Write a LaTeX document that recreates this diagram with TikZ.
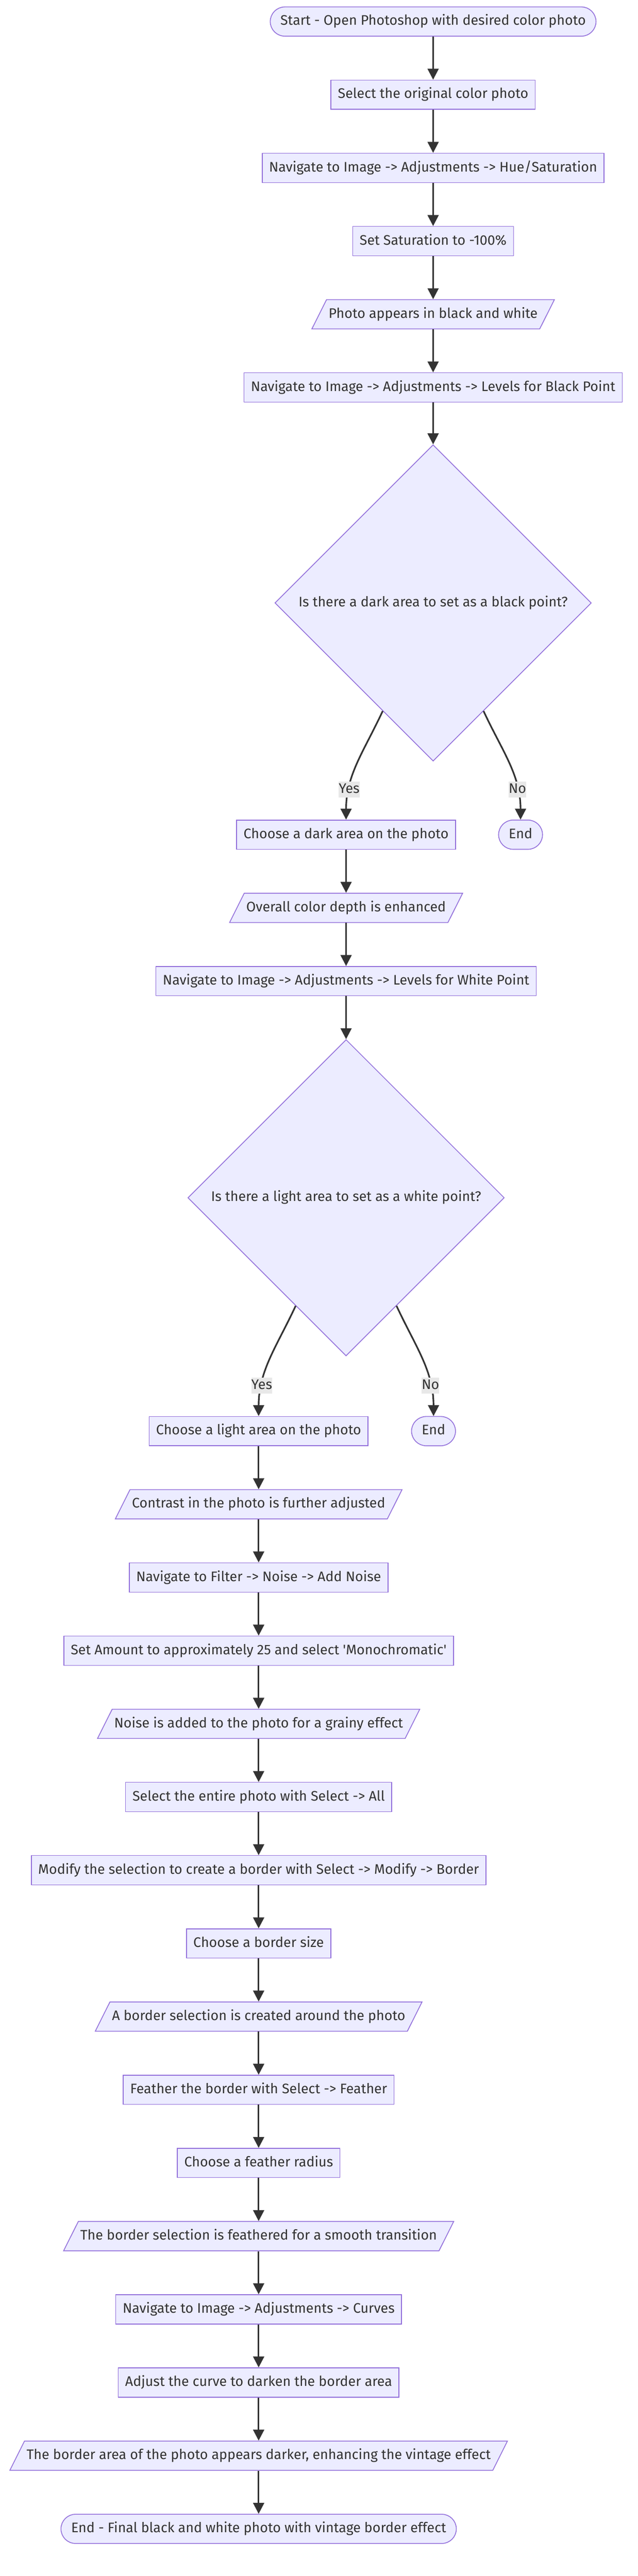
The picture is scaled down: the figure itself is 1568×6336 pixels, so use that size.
\documentclass[tikz,border=0pt]{standalone}
\usepackage{fontspec}
\newfontfamily\flowfont{Fira Sans}
\usetikzlibrary{shapes.geometric,arrows.meta}
\definecolor{boxfill}{HTML}{ECECFF}
\definecolor{boxline}{HTML}{9370DB}
\definecolor{ink}{HTML}{333333}
\definecolor{tagfill}{HTML}{E8E8E8}
\begin{document}
\begin{tikzpicture}[x=1pt,y=-1pt]%[node distance=108pt, every node=[box]]
			\tikzstyle{every node}=[font=\flowfont\fontsize{34}{40}\selectfont, text=ink, text height=26pt, text depth=8pt]
			\tikzstyle{box}=[rectangle, draw=boxline, fill=boxfill, line width=2pt, minimum height=72pt, inner xsep=17pt]
			\tikzstyle{stadium}=[box, rounded corners=36pt, inner xsep=25pt]
			\tikzstyle{slant}=[box, trapezium, trapezium left angle=63.4, trapezium right angle=116.6, minimum height=0pt, inner xsep=5pt, inner ysep=19pt]
			\tikzstyle{decision}=[box, diamond, aspect=1, minimum size=778pt, inner sep=0pt]
			\tikzstyle{flow}=[draw=ink, line width=4pt, -{Triangle[length=27pt,width=27pt]}]
			\tikzstyle{tag}=[fill=tagfill, inner sep=0pt, minimum height=39pt]
			\useasboundingbox (0,0) rectangle (1568,6336);
			% first column, down to the black point question
			\foreach \i/\y/\kind/\txt in {1/53/stadium/{Start - Open Photoshop with desired color photo},
				2/233/box/{Select the original color photo},
				3/413/box/{Navigate to Image -> Adjustments -> Hue/Saturation},
				4/593/box/{Set Saturation to -100\%},
				5/773/slant/{Photo appears in black and white},
				6/953/box/{Navigate to Image -> Adjustments -> Levels for Black Point},
				7/1483/decision/{Is there a dark area to set as a black point?}}
			{
				\node[\kind] (a\i) at (1065,\y) {\txt};
				\ifnum\i>1
				\pgfmathtruncatemacro\prev{\i-1}
				\draw[flow] (a\prev) -- (a\i);
				\fi
			}
			% second column, down to the white point question
			\foreach \i/\y/\kind/\txt in {1/2053/box/{Choose a dark area on the photo},
				2/2233/slant/{Overall color depth is enhanced},
				3/2413/box/{Navigate to Image -> Adjustments -> Levels for White Point},
				4/2946/decision/{Is there a light area to set as a white point?}}
			{
				\node[\kind] (b\i) at (851,\y) {\txt};
				\ifnum\i>1
				\pgfmathtruncatemacro\prev{\i-1}
				\draw[flow] (b\prev) -- (b\i);
				\fi
			}
			% third column, the border effect
			\foreach \i/\kind/\txt in {1/box/{Choose a light area on the photo},
				2/slant/{Contrast in the photo is further adjusted},
				3/box/{Navigate to Filter -> Noise -> Add Noise},
				4/box/{Set Amount to approximately 25 and select 'Monochromatic'},
				5/slant/{Noise is added to the photo for a grainy effect},
				6/box/{Select the entire photo with Select -> All},
				7/box/{Modify the selection to create a border with Select -> Modify -> Border},
				8/box/{Choose a border size},
				9/slant/{A border selection is created around the photo},
				10/box/{Feather the border with Select -> Feather},
				11/box/{Choose a feather radius},
				12/slant/{The border selection is feathered for a smooth transition},
				13/box/{Navigate to Image -> Adjustments -> Curves},
				14/box/{Adjust the curve to darken the border area},
				15/slant/{The border area of the photo appears darker, enhancing the vintage effect},
				16/stadium/{End - Final black and white photo with vintage border effect}}
			{
				\pgfmathsetmacro\y{3520+180*(\i-1)}
				\node[\kind] (c\i) at (636,\y) {\txt};
				\ifnum\i>1
				\pgfmathtruncatemacro\prev{\i-1}
				\draw[flow] (c\prev) -- (c\i);
				\fi
			}
			\node[stadium] (endA) at (1280,2053) {End};
			\node[stadium] (endB) at (1066,3520) {End};
			\draw[flow] (a7.-115) to[out=-115,in=90] node[tag,pos=0.75] {Yes} (b1.north);
			\draw[flow] (a7.-65) to[out=-65,in=90] node[tag,pos=0.75] {No} (endA.north);
			\draw[flow] (b4.-115) to[out=-115,in=90] node[tag,pos=0.75] {Yes} (c1.north);
			\draw[flow] (b4.-65) to[out=-65,in=90] node[tag,pos=0.75] {No} (endB.north);
\end{tikzpicture}
\end{document}
